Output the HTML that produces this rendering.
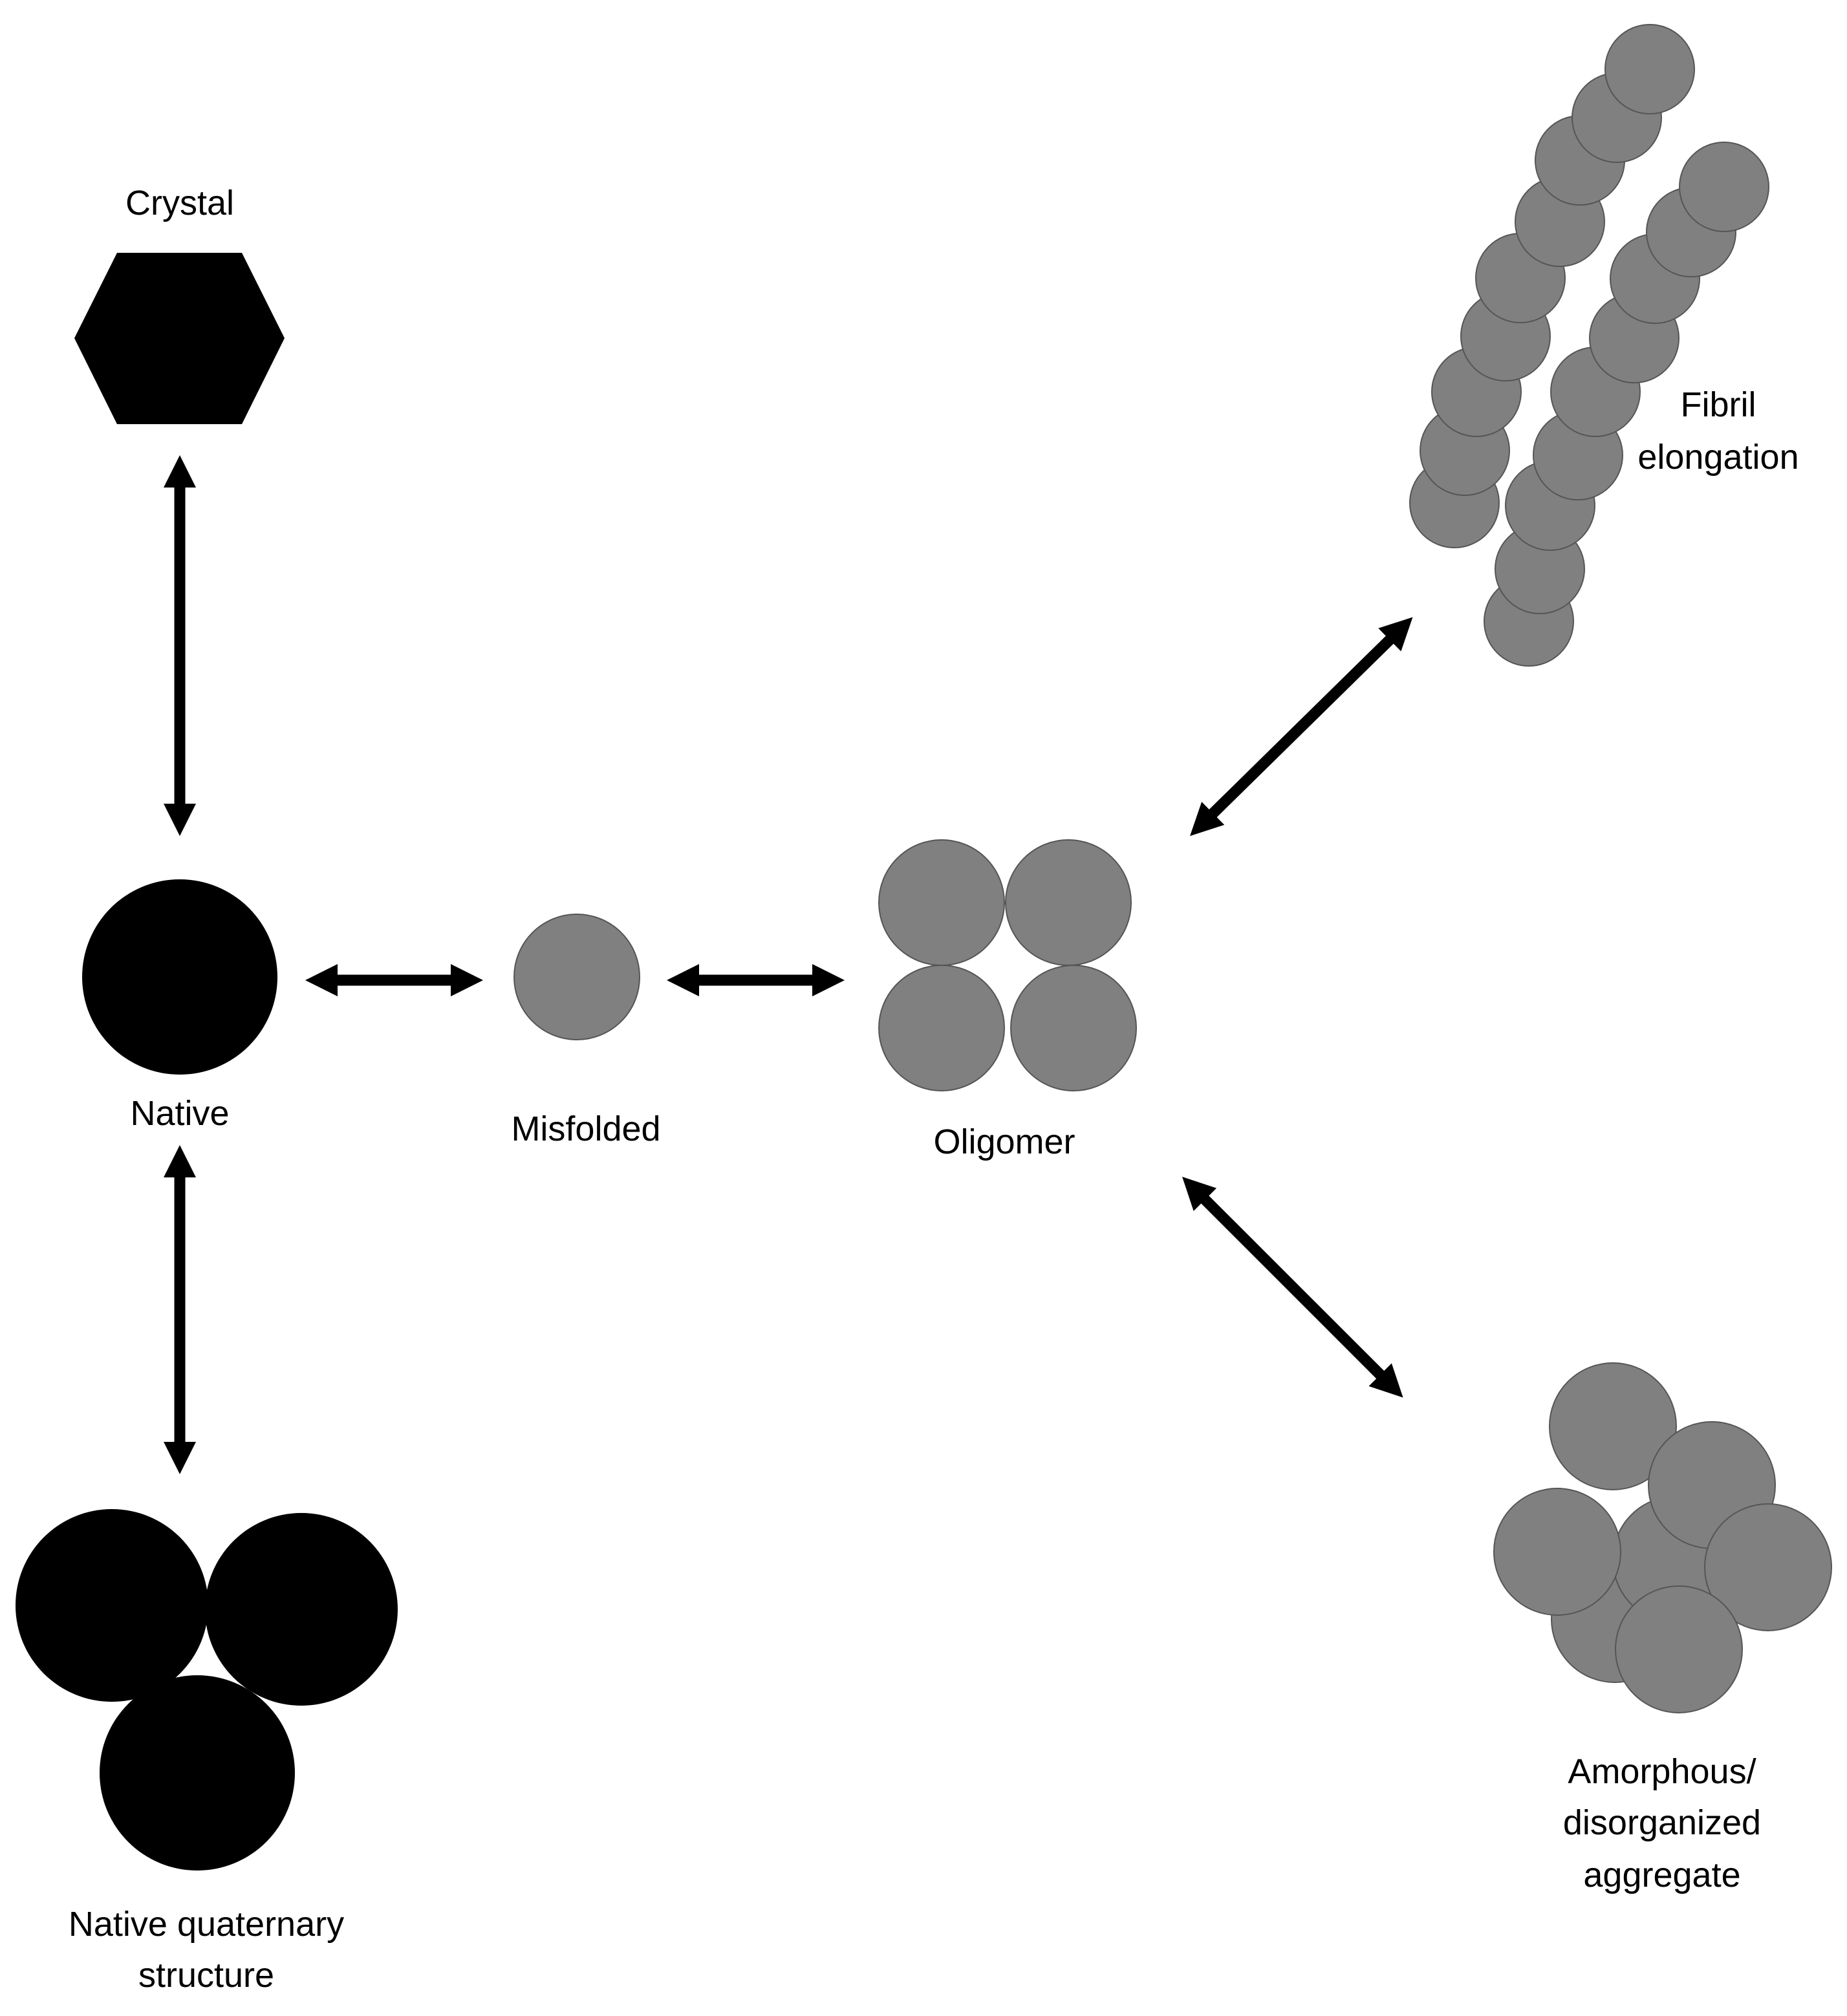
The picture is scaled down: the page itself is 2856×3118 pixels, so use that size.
<!DOCTYPE html>
<html><head><meta charset="utf-8"><style>
html,body{margin:0;padding:0;background:#fff}
svg{display:block}
text{font-family:"Liberation Sans",sans-serif;font-size:54px;fill:#000;text-anchor:middle}
</style></head><body>
<svg width="2856" height="3118" viewBox="0 0 2856 3118" xmlns="http://www.w3.org/2000/svg">
<defs>
<g id="a589"><polygon points="0,0 50,-25 50,-8.5 539,-8.5 539,-25 589,0 539,25 539,8.5 50,8.5 50,25"/></g>
<g id="a509"><polygon points="0,0 50,-25 50,-8.5 459,-8.5 459,-25 509,0 459,25 459,8.5 50,8.5 50,25"/></g>
<g id="a275"><polygon points="0,0 50,-25 50,-8.5 225,-8.5 225,-25 275,0 225,25 225,8.5 50,8.5 50,25"/></g>
<g id="a483"><polygon points="0,0 50,-25 50,-8.5 433,-8.5 433,-25 483,0 433,25 433,8.5 50,8.5 50,25"/></g>
</defs>
<rect width="2856" height="3118" fill="#fff"/>
<!-- Crystal -->
<text x="278" y="332">Crystal</text>
<polygon points="115,523 181,391 374,391 440,523 374,656 181,656" fill="#000"/>
<use href="#a589" transform="translate(278,704) rotate(90)"/>
<!-- Native -->
<circle cx="278" cy="1511" r="151" fill="#000"/>
<text x="278" y="1740">Native</text>
<use href="#a509" transform="translate(278,1771) rotate(90)"/>
<!-- Quaternary -->
<circle cx="173" cy="2483" r="149" fill="#000"/>
<circle cx="466" cy="2489" r="149" fill="#000"/>
<circle cx="305" cy="2742" r="151" fill="#000"/>
<text x="319" y="2994">Native quaternary</text>
<text x="319" y="3073">structure</text>
<!-- arrows horizontal -->
<use href="#a275" transform="translate(472,1516)"/>
<use href="#a275" transform="translate(1031,1516)"/>
<!-- Misfolded -->
<circle cx="892" cy="1511" r="97" fill="#808080" stroke="#555" stroke-width="2"/>
<text x="906" y="1764">Misfolded</text>
<!-- Oligomer -->
<g fill="#808080" stroke="#555" stroke-width="2">
<circle cx="1456" cy="1396" r="97"/>
<circle cx="1652" cy="1396" r="97"/>
<circle cx="1456" cy="1590" r="97"/>
<circle cx="1660" cy="1590" r="97"/>
</g>
<text x="1553" y="1784">Oligomer</text>
<!-- diagonal arrows -->
<use href="#a483" transform="translate(1840,1293) rotate(-44.5)"/>
<use href="#a483" transform="translate(1828,1820) rotate(45)"/>
<!-- Fibril -->
<g fill="#808080" stroke="#555" stroke-width="2">
<circle cx="2249" cy="778" r="69"/>
<circle cx="2265" cy="697" r="69"/>
<circle cx="2283" cy="606" r="69"/>
<circle cx="2328" cy="520" r="69"/>
<circle cx="2351" cy="430" r="69"/>
<circle cx="2412" cy="343" r="69"/>
<circle cx="2443" cy="248" r="69"/>
<circle cx="2500" cy="182" r="69"/>
<circle cx="2551" cy="107" r="69"/>
<circle cx="2364" cy="961" r="69"/>
<circle cx="2381" cy="880" r="69"/>
<circle cx="2397" cy="782" r="69"/>
<circle cx="2440" cy="704" r="69"/>
<circle cx="2467" cy="606" r="69"/>
<circle cx="2527" cy="523" r="69"/>
<circle cx="2559" cy="431" r="69"/>
<circle cx="2615" cy="359" r="69"/>
<circle cx="2666" cy="289" r="69"/>
</g>
<text x="2657" y="644">Fibril</text>
<text x="2657" y="725">elongation</text>
<!-- Aggregate -->
<g fill="#808080" stroke="#555" stroke-width="2">
<circle cx="2497" cy="2504" r="98"/>
<circle cx="2592" cy="2412" r="98"/>
<circle cx="2494" cy="2206" r="98"/>
<circle cx="2647" cy="2297" r="98"/>
<circle cx="2408" cy="2400" r="98"/>
<circle cx="2734" cy="2424" r="98"/>
<circle cx="2596" cy="2551" r="98"/>
</g>
<text x="2570" y="2758">Amorphous/</text>
<text x="2570" y="2837">disorganized</text>
<text x="2570" y="2918">aggregate</text>
</svg>
</body></html>
